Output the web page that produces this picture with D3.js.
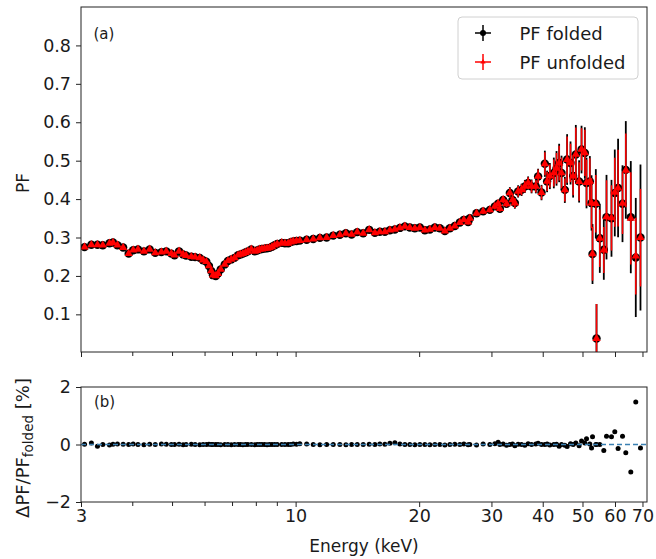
<!DOCTYPE html>
<html>
<head>
<meta charset="utf-8">
<script src="https://cdn.jsdelivr.net/npm/d3@7"></script>
<style>
  html, body { margin: 0; padding: 0; background: #fff; }
  svg { display: block; font-family: "DejaVu Sans", sans-serif; }
</style>
</head>
<body>
<svg id="chart" width="656" height="559"></svg>
<script>
// ---------------- DATA ----------------
const energy = [
  3.06, 3.18, 3.29, 3.39, 3.52, 3.59, 3.68, 3.80, 3.92, 4.02,
  4.13, 4.27, 4.41, 4.55, 4.71, 4.84, 4.98, 5.07, 5.20, 5.32,
  5.41, 5.57, 5.69, 5.84, 5.95, 6.06, 6.15, 6.23, 6.29, 6.39,
  6.47, 6.57, 6.72, 6.84, 6.97, 7.10, 7.24, 7.34, 7.44, 7.55,
  7.65, 7.80, 7.95, 8.06, 8.17, 8.28, 8.40, 8.52, 8.64, 8.76,
  8.89, 9.02, 9.25, 9.42, 9.59, 9.73, 9.87, 10.05, 10.24, 10.64,
  11.04, 11.46, 11.90, 12.35, 12.82, 13.26, 13.69, 14.13, 14.61, 15.11,
  15.60, 16.04, 16.50, 16.97, 17.45, 17.95, 18.46, 18.98, 19.52, 20.08,
  20.65, 21.24, 21.84, 22.46, 23.10, 23.76, 24.43, 25.13, 25.70, 26.32,
  26.57, 27.59, 28.63, 29.73, 30.58, 31.15, 31.45, 32.04, 32.65, 33.26,
  33.77, 34.21, 34.85, 35.52, 36.18, 36.86, 37.57, 38.48, 38.98, 39.73,
  40.48, 41.00, 41.63, 42.57, 43.22, 43.86, 44.45, 45.28, 45.87, 46.75,
  47.44, 48.16, 49.06, 49.73, 50.66, 51.14, 52.10, 52.60, 52.89, 53.88,
  54.09, 55.10, 56.35, 57.21, 58.83, 59.93, 61.05, 62.58, 63.75, 65.56,
  67.42, 69.22
];
const pfFolded = [
  0.275, 0.281, 0.281, 0.280, 0.285, 0.287, 0.280, 0.274, 0.258, 0.267,
  0.269, 0.264, 0.269, 0.260, 0.262, 0.264, 0.258, 0.254, 0.264, 0.256,
  0.253, 0.250, 0.249, 0.247, 0.241, 0.237, 0.226, 0.213, 0.202, 0.200,
  0.206, 0.217, 0.230, 0.239, 0.243, 0.247, 0.254, 0.256, 0.258, 0.261,
  0.264, 0.269, 0.264, 0.266, 0.269, 0.270, 0.271, 0.272, 0.273, 0.276,
  0.280, 0.283, 0.286, 0.285, 0.285, 0.288, 0.290, 0.291, 0.292, 0.294,
  0.296, 0.299, 0.300, 0.305, 0.307, 0.311, 0.308, 0.314, 0.311, 0.320,
  0.312, 0.315, 0.315, 0.319, 0.321, 0.325, 0.329, 0.326, 0.324, 0.326,
  0.319, 0.321, 0.326, 0.324, 0.317, 0.324, 0.330, 0.339, 0.346, 0.340,
  0.350, 0.363, 0.368, 0.372, 0.381, 0.388, 0.375, 0.398, 0.388, 0.416,
  0.398, 0.390, 0.420, 0.424, 0.433, 0.442, 0.433, 0.433, 0.459, 0.417,
  0.492, 0.446, 0.460, 0.468, 0.480, 0.494, 0.468, 0.424, 0.503, 0.494,
  0.460, 0.516, 0.446, 0.529, 0.520, 0.442, 0.446, 0.390, 0.257, 0.388,
  0.037, 0.298, 0.268, 0.353, 0.350, 0.416, 0.429, 0.388, 0.476, 0.353,
  0.248, 0.300
];
const errFolded = [
  0.004, 0.004, 0.004, 0.004, 0.004, 0.004, 0.004, 0.004, 0.004, 0.004,
  0.004, 0.004, 0.004, 0.004, 0.004, 0.004, 0.004, 0.004, 0.004, 0.004,
  0.004, 0.004, 0.004, 0.004, 0.004, 0.004, 0.004, 0.004, 0.004, 0.004,
  0.004, 0.004, 0.004, 0.004, 0.004, 0.004, 0.004, 0.004, 0.004, 0.004,
  0.004, 0.004, 0.004, 0.004, 0.004, 0.004, 0.004, 0.004, 0.004, 0.004,
  0.004, 0.004, 0.004, 0.004, 0.004, 0.004, 0.004, 0.004, 0.005, 0.005,
  0.005, 0.005, 0.005, 0.005, 0.005, 0.005, 0.005, 0.005, 0.005, 0.005,
  0.005, 0.005, 0.005, 0.005, 0.005, 0.005, 0.005, 0.005, 0.005, 0.005,
  0.005, 0.005, 0.005, 0.005, 0.005, 0.005, 0.005, 0.006, 0.006, 0.006,
  0.008, 0.008, 0.008, 0.008, 0.009, 0.009, 0.009, 0.010, 0.010, 0.015,
  0.015, 0.015, 0.016, 0.016, 0.017, 0.017, 0.018, 0.018, 0.020, 0.020,
  0.034, 0.028, 0.034, 0.040, 0.045, 0.050, 0.045, 0.034, 0.066, 0.056,
  0.056, 0.077, 0.055, 0.062, 0.067, 0.066, 0.066, 0.072, 0.078, 0.090,
  0.090, 0.090, 0.078, 0.110, 0.100, 0.113, 0.128, 0.100, 0.127, 0.146,
  0.155, 0.190
];
const errUnfolded = [
  0.004, 0.004, 0.004, 0.004, 0.004, 0.004, 0.004, 0.004, 0.004, 0.004,
  0.004, 0.004, 0.004, 0.004, 0.004, 0.004, 0.004, 0.004, 0.004, 0.004,
  0.004, 0.004, 0.004, 0.004, 0.004, 0.004, 0.004, 0.004, 0.004, 0.004,
  0.004, 0.004, 0.004, 0.004, 0.004, 0.004, 0.004, 0.004, 0.004, 0.004,
  0.004, 0.004, 0.004, 0.004, 0.004, 0.004, 0.004, 0.004, 0.004, 0.004,
  0.004, 0.004, 0.004, 0.004, 0.004, 0.004, 0.004, 0.004, 0.005, 0.005,
  0.005, 0.005, 0.005, 0.005, 0.005, 0.005, 0.005, 0.005, 0.005, 0.005,
  0.005, 0.005, 0.005, 0.005, 0.005, 0.005, 0.005, 0.005, 0.005, 0.005,
  0.005, 0.005, 0.005, 0.005, 0.005, 0.005, 0.005, 0.006, 0.006, 0.006,
  0.007, 0.007, 0.007, 0.007, 0.008, 0.008, 0.008, 0.009, 0.009, 0.013,
  0.013, 0.013, 0.014, 0.014, 0.015, 0.015, 0.016, 0.016, 0.018, 0.018,
  0.030, 0.025, 0.030, 0.035, 0.040, 0.045, 0.040, 0.030, 0.060, 0.050,
  0.050, 0.070, 0.050, 0.055, 0.060, 0.060, 0.060, 0.065, 0.070, 0.075,
  0.090, 0.075, 0.060, 0.095, 0.085, 0.090, 0.100, 0.080, 0.096, 0.120,
  0.100, 0.127
];
// Delta PF / PF_folded in percent (panel b)
const deltaPct = [
  0.01, 0.05, -0.06, 0.00, -0.02, 0.01, 0.02, 0.01, 0.00, 0.02,
  0.00, -0.01, 0.01, 0.00, 0.02, 0.01, 0.00, 0.00, 0.01, -0.01,
  0.00, 0.01, 0.00, -0.01, 0.00, 0.00, 0.01, 0.00, 0.00, 0.00,
  0.00, -0.01, 0.00, 0.00, -0.01, 0.00, 0.00, 0.00, -0.01, 0.00,
  0.00, 0.00, -0.01, 0.00, 0.00, 0.00, 0.00, -0.01, 0.00, 0.00,
  0.00, 0.00, 0.00, 0.00, 0.00, 0.00, 0.02, 0.01, 0.03, 0.02,
  0.00, -0.01, 0.00, 0.00, 0.00, -0.01, 0.00, 0.00, 0.00, 0.01,
  0.00, 0.02, 0.01, 0.04, 0.06, 0.02, 0.00, 0.00, -0.01, 0.00,
  0.00, -0.01, 0.00, 0.00, -0.02, 0.00, 0.01, 0.00, 0.02, -0.01,
  0.00, -0.02, 0.02, 0.00, 0.03, 0.08, 0.00, 0.02, -0.03, 0.00,
  0.02, -0.04, 0.01, 0.00, -0.03, 0.03, 0.00, 0.02, 0.04, 0.00,
  0.00, 0.02, -0.02, 0.00, 0.01, -0.06, 0.00, -0.03, -0.07, 0.03,
  0.00, 0.05, -0.04, 0.12, 0.05, 0.20, 0.02, -0.12, 0.27, 0.00,
  0.00, 0.00, -0.21, 0.29, 0.27, 0.44, -0.14, 0.29, -0.29, -0.96,
  1.48, -0.12
];
const pfUnfolded = pfFolded.map((v, i) => v * (1 + deltaPct[i] / 100));

const xTickLabels = [3, 10, 20, 30, 40, 50, 60, 70];
const xTickOthers = [4, 5, 6, 7, 8, 9];
const yTopTicks = [0.1, 0.2, 0.3, 0.4, 0.5, 0.6, 0.7, 0.8];
const yBotTicks = [-2, 0, 2];
const seriesNames = ["PF folded", "PF unfolded"];

// ---------------- LAYOUT ----------------
const svg = d3.select("#chart");
const L = 81, R = 647;
const topT = 7, topB = 352, botT = 387, botB = 502;
const ink = "#1a1a1a";

const x = d3.scaleLog().domain([3, 71.8]).range([L, R]);
const yTop = d3.scaleLinear().domain([0.002, 0.9]).range([topB, topT]);
const yBot = d3.scaleLinear().domain([-2, 2]).range([botB, botT]);

const defs = svg.append("defs");
defs.append("clipPath").attr("id", "clipTop")
  .append("rect").attr("x", L).attr("y", topT).attr("width", R - L).attr("height", topB - topT);
defs.append("clipPath").attr("id", "clipBot")
  .append("rect").attr("x", L).attr("y", botT).attr("width", R - L).attr("height", botB - botT);

const data = energy.map((e, i) => ({
  e, pf: pfFolded[i], ef: errFolded[i], pu: pfUnfolded[i], eu: errUnfolded[i], d: deltaPct[i]
}));

// ---------------- PANEL A ----------------
const gA = svg.append("g").attr("clip-path", "url(#clipTop)");
gA.selectAll("line.ebf").data(data).join("line")
  .attr("x1", d => x(d.e)).attr("x2", d => x(d.e))
  .attr("y1", d => yTop(d.pf - d.ef)).attr("y2", d => yTop(d.pf + d.ef))
  .attr("stroke", "#000").attr("stroke-width", 1.8);
gA.selectAll("circle.mf").data(data).join("circle")
  .attr("cx", d => x(d.e)).attr("cy", d => yTop(d.pf)).attr("r", 4.2)
  .attr("fill", "#000");
gA.selectAll("line.ebu").data(data).join("line")
  .attr("x1", d => x(d.e)).attr("x2", d => x(d.e))
  .attr("y1", d => yTop(d.pu - d.eu)).attr("y2", d => yTop(d.pu + d.eu))
  .attr("stroke", "#ff0000").attr("stroke-width", 1.5);
const tri = d3.symbol().type(d3.symbolTriangle).size(30);
gA.selectAll("path.mu").data(data).join("path")
  .attr("d", tri)
  .attr("transform", d => `translate(${x(d.e)},${yTop(d.pu)})`)
  .attr("fill", "#ff0000");

// ---------------- PANEL B ----------------
const gB = svg.append("g").attr("clip-path", "url(#clipBot)");
gB.selectAll("circle.db").data(data).join("circle")
  .attr("cx", d => x(d.e)).attr("cy", d => yBot(d.d)).attr("r", 2.5)
  .attr("fill", "#000");
gB.append("line")
  .attr("x1", L).attr("x2", R).attr("y1", yBot(0)).attr("y2", yBot(0))
  .attr("stroke", "#3a80b2").attr("stroke-width", 1.3).attr("stroke-dasharray", "5,3");

// ---------------- AXES ----------------
function styleAxis(g) {
  g.select(".domain").remove();
  g.selectAll(".tick line").attr("stroke", "#222").attr("stroke-width", 1);
  g.selectAll(".tick text").attr("fill", ink).style("font-size", "17.5px")
    .style("font-family", "'DejaVu Sans', sans-serif");
}
svg.append("g").attr("transform", `translate(0,${topB})`)
  .call(d3.axisBottom(x).tickValues(xTickLabels).tickSize(5).tickFormat(""))
  .call(styleAxis);
svg.append("g").attr("transform", `translate(0,${topB})`)
  .call(d3.axisBottom(x).tickValues(xTickOthers).tickSize(4).tickFormat(""))
  .call(styleAxis);
svg.append("g").attr("transform", `translate(0,${botB})`)
  .call(d3.axisBottom(x).tickValues(xTickLabels).tickSize(5).tickPadding(3).tickFormat(d3.format("d")))
  .call(styleAxis);
svg.append("g").attr("transform", `translate(0,${botB})`)
  .call(d3.axisBottom(x).tickValues(xTickOthers).tickSize(4).tickFormat(""))
  .call(styleAxis);
svg.append("g").attr("transform", `translate(${L},0)`)
  .call(d3.axisLeft(yTop).tickValues(yTopTicks).tickSize(5).tickPadding(5).tickFormat(d3.format(".1f")))
  .call(styleAxis);
svg.append("g").attr("transform", `translate(${L},0)`)
  .call(d3.axisLeft(yBot).tickValues(yBotTicks).tickSize(5).tickPadding(5).tickFormat(d => d < 0 ? "\u2212" + Math.abs(d) : String(d)))
  .call(styleAxis);

[[topT, topB], [botT, botB]].forEach(([t, b]) => {
  svg.append("rect").attr("x", L).attr("y", t).attr("width", R - L).attr("height", b - t)
    .attr("fill", "none").attr("stroke", "#222").attr("stroke-width", 1);
});

svg.append("text").attr("x", 93.5).attr("y", 38.5).text("(a)")
  .attr("fill", ink).style("font-size", "15px");
svg.append("text").attr("x", 94).attr("y", 407).text("(b)")
  .attr("fill", ink).style("font-size", "15px");

svg.append("text").attr("transform", "translate(29,183) rotate(-90)")
  .attr("text-anchor", "middle").attr("fill", ink).style("font-size", "17px").text("PF");
const yl = svg.append("text").attr("transform", "translate(29,448) rotate(-90)")
  .attr("text-anchor", "middle").attr("fill", ink).style("font-size", "18px");
yl.append("tspan").text("\u0394PF/PF");
yl.append("tspan").attr("dy", 4).style("font-size", "13.5px").text("folded");
yl.append("tspan").attr("dy", -4).text(" [%]");
svg.append("text").attr("x", (L + R) / 2).attr("y", 552).attr("text-anchor", "middle")
  .attr("fill", ink).style("font-size", "17px").text("Energy (keV)");

// ---------------- LEGEND ----------------
const lg = svg.append("g");
lg.append("rect").attr("x", 458).attr("y", 17).attr("width", 180).attr("height", 62)
  .attr("rx", 4).attr("fill", "#fff").attr("fill-opacity", 0.85)
  .attr("stroke", "#d0d0d0").attr("stroke-width", 1);
const rows = [
  { name: seriesNames[0], y: 33, color: "#000" },
  { name: seriesNames[1], y: 62, color: "#ff0000" }
];
rows.forEach((r, i) => {
  const cx = 483;
  lg.append("line").attr("x1", cx - 8).attr("x2", cx + 8).attr("y1", r.y).attr("y2", r.y)
    .attr("stroke", r.color).attr("stroke-width", 1.5);
  lg.append("line").attr("x1", cx).attr("x2", cx).attr("y1", r.y - 8).attr("y2", r.y + 8)
    .attr("stroke", r.color).attr("stroke-width", 1.5);
  if (i === 0) {
    lg.append("circle").attr("cx", cx).attr("cy", r.y).attr("r", 3).attr("fill", r.color);
  } else {
    lg.append("path").attr("d", d3.symbol().type(d3.symbolTriangle).size(12))
      .attr("transform", `translate(${cx},${r.y})`).attr("fill", r.color);
  }
  lg.append("text").attr("x", 519.5).attr("y", r.y + 6.5).attr("fill", ink)
    .style("font-size", "18px").text(r.name);
});
</script>
</body>
</html>
